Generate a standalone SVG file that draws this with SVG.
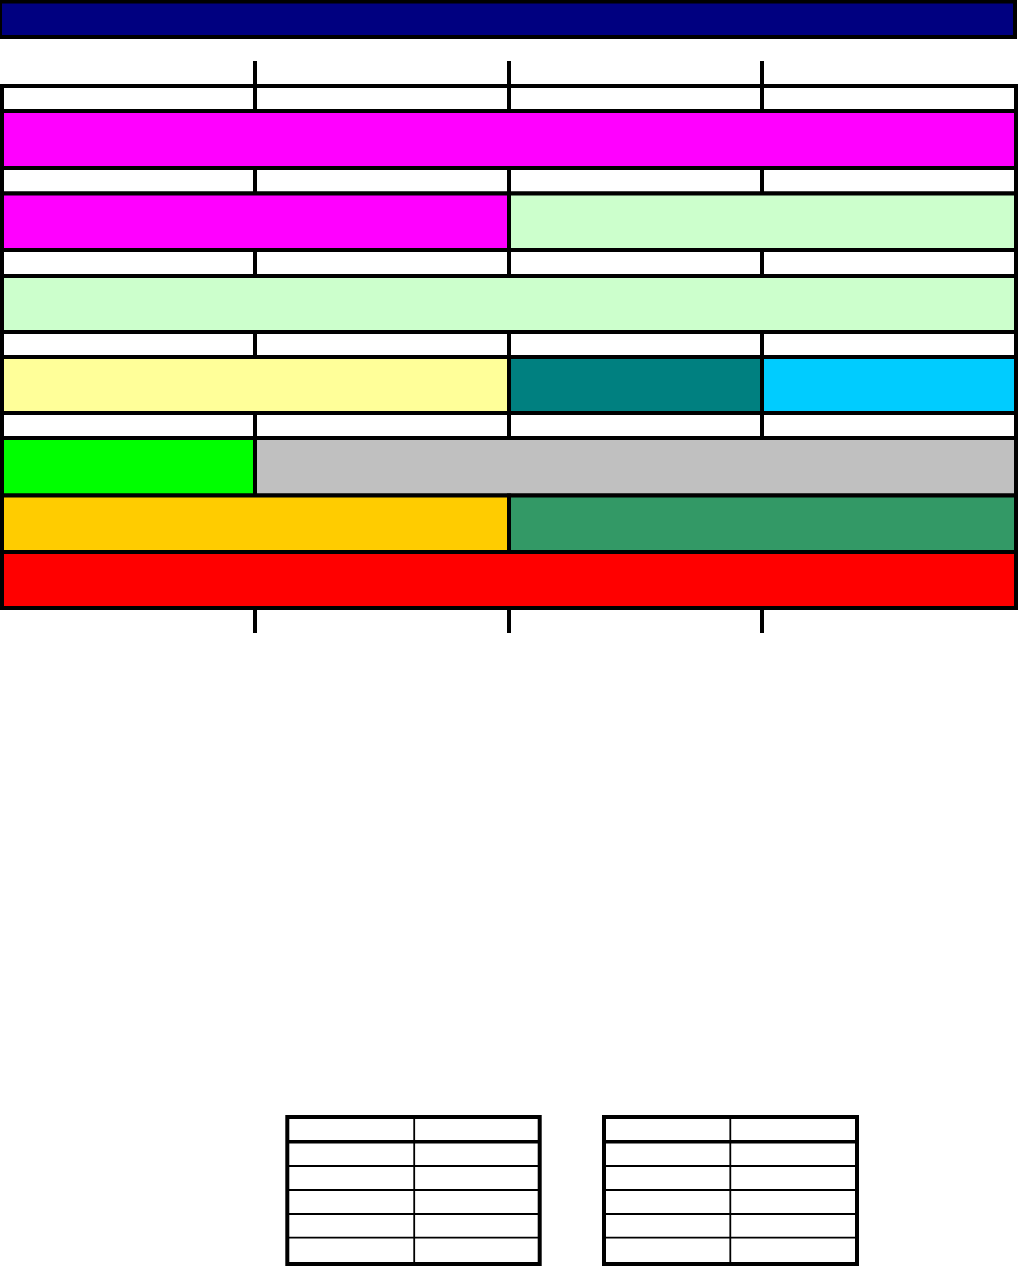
<svg xmlns="http://www.w3.org/2000/svg" width="1018" height="1266" viewBox="0 0 1018 1266">
<style>
.c{stroke:#000;stroke-width:4}
.w{fill:#fff}
.t{stroke:#000;stroke-width:4;fill:none}
.tl{stroke:#000;stroke-width:1.8}
.th{stroke:#000;stroke-width:3.4}
</style>
<rect width="1018" height="1266" fill="#fff"/>
<g id="title"><rect class="c" x="0" y="1.5" width="1015" height="35.5" fill="#000080"/></g>
<g id="ticks">
<line class="tl" style="stroke-width:4" x1="255" y1="61" x2="255" y2="86"/>
<line class="tl" style="stroke-width:4" x1="509" y1="61" x2="509" y2="86"/>
<line class="tl" style="stroke-width:4" x1="762" y1="61" x2="762" y2="86"/>
<line class="tl" style="stroke-width:4" x1="255" y1="608" x2="255" y2="633"/>
<line class="tl" style="stroke-width:4" x1="509" y1="608" x2="509" y2="633"/>
<line class="tl" style="stroke-width:4" x1="762" y1="608" x2="762" y2="633"/>
</g>
<g id="row1">
<rect class="c w" x="2" y="86" width="253" height="25"/>
<rect class="c w" x="255" y="86" width="254" height="25"/>
<rect class="c w" x="509" y="86" width="253" height="25"/>
<rect class="c w" x="762" y="86" width="254" height="25"/>
</g>
<g id="magenta-full"><rect class="c" x="2" y="111" width="1014" height="57" fill="#FF00FF"/></g>
<g id="row2">
<rect class="c w" x="2" y="168" width="253" height="25.5"/>
<rect class="c w" x="255" y="168" width="254" height="25.5"/>
<rect class="c w" x="509" y="168" width="253" height="25.5"/>
<rect class="c w" x="762" y="168" width="254" height="25.5"/>
</g>
<g id="magenta-half"><rect class="c" x="2" y="193.5" width="507" height="56.5" fill="#FF00FF"/></g>
<g id="green-half"><rect class="c" x="509" y="193.5" width="507" height="56.5" fill="#CCFFCC"/></g>
<g id="row3">
<rect class="c w" x="2" y="250" width="253" height="26"/>
<rect class="c w" x="255" y="250" width="254" height="26"/>
<rect class="c w" x="509" y="250" width="253" height="26"/>
<rect class="c w" x="762" y="250" width="254" height="26"/>
</g>
<g id="green-full"><rect class="c" x="2" y="276" width="1014" height="56" fill="#CCFFCC"/></g>
<g id="row4">
<rect class="c w" x="2" y="332" width="253" height="25"/>
<rect class="c w" x="255" y="332" width="254" height="25"/>
<rect class="c w" x="509" y="332" width="253" height="25"/>
<rect class="c w" x="762" y="332" width="254" height="25"/>
</g>
<g id="yellow"><rect class="c" x="2" y="357" width="507" height="56" fill="#FFFF99"/></g>
<g id="teal"><rect class="c" x="509" y="357" width="253" height="56" fill="#008080"/></g>
<g id="cyan"><rect class="c" x="762" y="357" width="254" height="56" fill="#00CCFF"/></g>
<g id="row5">
<rect class="c w" x="2" y="413" width="253" height="25"/>
<rect class="c w" x="255" y="413" width="254" height="25"/>
<rect class="c w" x="509" y="413" width="253" height="25"/>
<rect class="c w" x="762" y="413" width="254" height="25"/>
</g>
<g id="lime"><rect class="c" x="2" y="438" width="253" height="57.5" fill="#00FF00"/></g>
<g id="gray"><rect class="c" x="255" y="438" width="761" height="57.5" fill="#C0C0C0"/></g>
<g id="orange"><rect class="c" x="2" y="495.5" width="507" height="56.5" fill="#FFCC00"/></g>
<g id="seagreen"><rect class="c" x="509" y="495.5" width="507" height="56.5" fill="#339966"/></g>
<g id="red"><rect class="c" x="2" y="552" width="1014" height="56" fill="#FF0000"/></g>
<g id="table1">
<rect x="287.3" y="1117" width="252.4" height="147" fill="#fff"/>
<line class="tl" x1="414.2" y1="1117" x2="414.2" y2="1264"/>
<line class="th" x1="287.3" y1="1141.7" x2="539.7" y2="1141.7"/>
<line class="tl" x1="287.3" y1="1166" x2="539.7" y2="1166"/>
<line class="tl" x1="287.3" y1="1190" x2="539.7" y2="1190"/>
<line class="tl" x1="287.3" y1="1214" x2="539.7" y2="1214"/>
<line class="tl" x1="287.3" y1="1237.7" x2="539.7" y2="1237.7"/>
<rect class="t" x="287.3" y="1117" width="252.4" height="147"/>
</g>
<g id="table2">
<rect x="604" y="1117" width="253" height="147" fill="#fff"/>
<line class="tl" x1="730.3" y1="1117" x2="730.3" y2="1264"/>
<line class="th" x1="604" y1="1141.7" x2="857" y2="1141.7"/>
<line class="tl" x1="604" y1="1166" x2="857" y2="1166"/>
<line class="tl" x1="604" y1="1190" x2="857" y2="1190"/>
<line class="tl" x1="604" y1="1214" x2="857" y2="1214"/>
<line class="tl" x1="604" y1="1237.7" x2="857" y2="1237.7"/>
<rect class="t" x="604" y="1117" width="253" height="147"/>
</g>
</svg>
